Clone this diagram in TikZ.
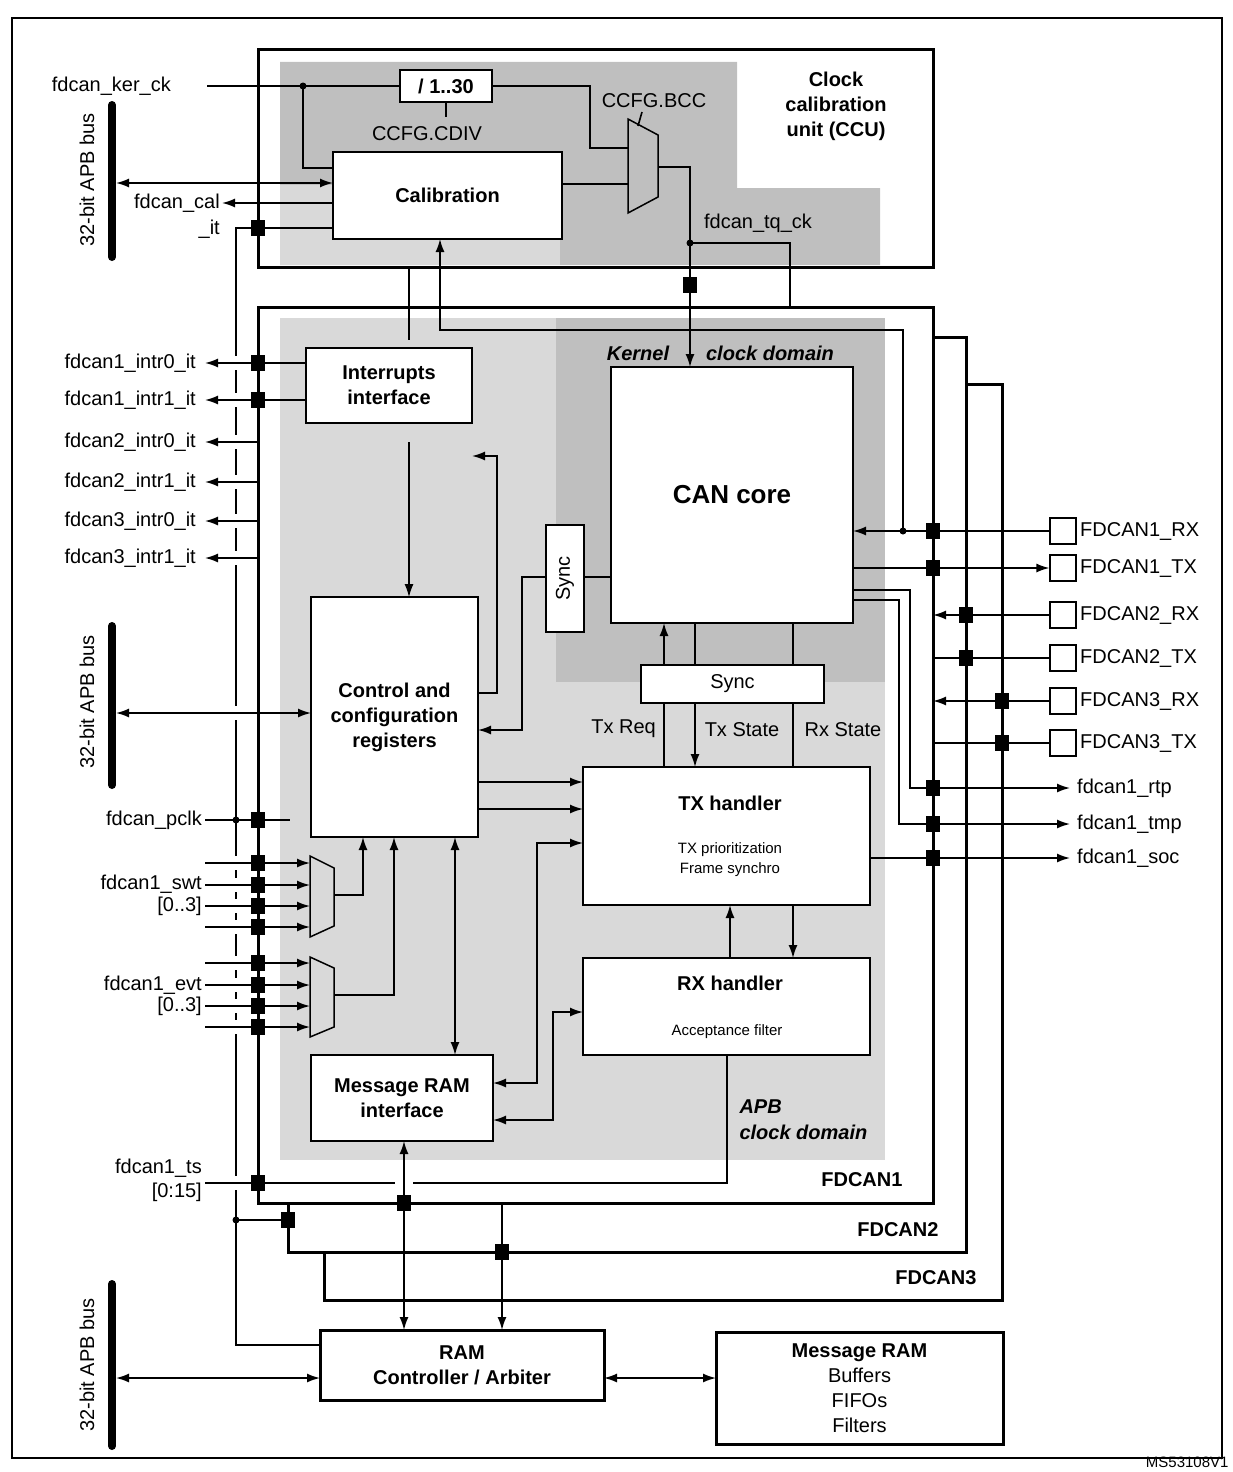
\documentclass[tikz,border=0pt]{standalone}
\usepackage{fontspec}
\setmainfont{Liberation Sans}
\usetikzlibrary{arrows.meta}
\definecolor{dg}{HTML}{BFBFBF}
\definecolor{lg}{HTML}{D9D9D9}
\newcommand\fa{\fontsize{20}{24}\selectfont}
\newcommand\fb{\fontsize{20}{25}\selectfont\bfseries}
\newcommand\fc{\fontsize{15}{20}\selectfont}
\newcommand\mybox[7][]{\node[box,#1,minimum width={(#5-#3)*1pt},minimum height={(#6-#4)*1pt}] (#2) at ({(#3+#5)/2},{(#4+#6)/2}) {#7};}
\newcommand\sqr[2]{\fill ({#1-7},{#2-8}) rectangle ({#1+7},{#2+8});}
\newcommand\jdot[2]{\fill (#1,#2) circle (3.5);}
\begin{document}
\begin{tikzpicture}[x=1pt,y=-1pt,
 box/.style={draw, fill=white, line width=1.5pt, inner sep=0, align=center, font=\fb},
 conn/.style={line width=1.6pt},
 arr/.style={conn, -{Latex[length=13pt,width=9pt]}},
 darr/.style={conn, {Latex[length=13pt,width=9pt]}-{Latex[length=13pt,width=9pt]}},
 frm/.style={line width=3pt},
 lbl/.style={font=\fa, inner sep=1pt},
 bus/.style={line width=8pt, line cap=round}]
\useasboundingbox (0,0) rectangle (1232,1472);
\draw[line width=1.5pt] (12,18) rectangle (1222,1458);
% shading
\fill[dg] (280,62) -- (737,62) -- (737,188) -- (880,188) -- (880,265) -- (280,265) -- cycle;
\fill[lg] (280,185) rectangle (560,265);
\fill[lg] (280,318) rectangle (885,1160);
\fill[dg] (556,318) rectangle (885,682);
% long vertical line with gaps
\draw[conn] (333,228) -- (236,228) -- (236,1345) -- (320,1345);
\foreach \y in {363,400,442,482,521,558,713,863,885,906,927,963,985,1006,1027,1183}
  \draw[white,line width=4pt] (236,\y-7) -- (236,\y+7);
% frames
\draw[frm] (258,50) rectangle (933,267);
\draw[frm] (258,307) rectangle (933,1203);
\draw[frm] (288,1203) -- (288,1252) -- (966,1252) -- (966,337) -- (933,337);
\draw[frm] (324,1252) -- (324,1300) -- (1002,1300) -- (1002,384) -- (966,384);
\node[font=\fb, align=center] (ccut) at (836,106) {Clock\\calibration\\unit (CCU)};
\node[font=\fb, anchor=east] (f1) at (906,1180) {FDCAN1};
\node[font=\fb, anchor=east] (f2) at (942,1230) {FDCAN2};
\node[font=\fb, anchor=east] (f3) at (980,1278) {FDCAN3};
% CCU
\mybox{div}{400}{70}{492}{102}{/ 1..30}
\mybox{calib}{333}{152}{562}{239}{Calibration}
\node[lbl, anchor=east] (kerl) at (172,86) {fdcan\_ker\_ck};
\coordinate (kerin) at (207,86);
\draw[conn] (kerin) -- (div.west);
\jdot{303}{86}
\draw[conn] (303,86) -- (303,168) -- (333,168);
\draw[conn] (446,102) -- (446,117);
\node[lbl] (cdiv) at (427,134) {CCFG.CDIV};
\draw[conn] (div.east) -- (590,86) -- (590,148) -- (628,148);
\draw[line width=1.5pt, fill=dg] (628,119) -- (658,135) -- (658,197) -- (628,213) -- cycle;
\draw[conn] (642,112) -- (638,126);
\node[lbl] (bcc) at (654,101) {CCFG.BCC};
\draw[conn] (562,184) -- (628,184);
\mybox[font=\fontsize{26}{30}\selectfont\bfseries]{core}{611}{367}{853}{623}{CAN core}
\draw[arr] (658,167) -- (690,167) -- (690,367);
\jdot{690}{243}
\draw[conn] (690,243) -- (790,243) -- (790,307);
\sqr{690}{285}
\node[lbl] (tq) at (758,223) {fdcan\_tq\_ck};
% APB bus 1
\draw[bus] (112,105) -- (112,257);
\node[lbl, rotate=90] (apb1) at (87,180) {32-bit APB bus};
\draw[darr] (116,183) -- (333,183);
\draw[arr] (333,203) -- (222,203);
\node[lbl, anchor=east] (cal) at (221,203) {fdcan\_cal};
\node[lbl, anchor=east] (calit) at (221,229) {\_it};
\sqr{258}{228}
% kernel labels
\node[font=\fb\itshape] (kl) at (638,353) {Kernel};
\node[font=\fb\itshape] (cl) at (770,353) {clock domain};
% interrupts
\draw[conn] (409,267) -- (409,340);
\draw[arr] (903,533) -- (903,330) -- (440,330) -- (440,239);
\mybox{intr}{306}{348}{472}{423}{Interrupts\\interface}
\draw[arr] (306,363) -- (205,363);
\draw[arr] (306,400) -- (205,400);
\sqr{258}{363}\sqr{258}{400}
\foreach \y in {442,482,521,558} \draw[arr] (258,\y) -- (205,\y);
\node[lbl, anchor=east] (i10) at (197,363) {fdcan1\_intr0\_it};
\node[lbl, anchor=east] (i11) at (197,400) {fdcan1\_intr1\_it};
\node[lbl, anchor=east] (i20) at (197,442) {fdcan2\_intr0\_it};
\node[lbl, anchor=east] (i21) at (197,482) {fdcan2\_intr1\_it};
\node[lbl, anchor=east] (i30) at (197,521) {fdcan3\_intr0\_it};
\node[lbl, anchor=east] (i31) at (197,558) {fdcan3\_intr1\_it};
\draw[arr, line width=1.2pt] (409,442) -- (409,597);
% control
\mybox{ctrl}{311}{597}{478}{837}{Control and\\configuration\\registers}
\draw[arr] (478,693) -- (497,693) -- (497,456) -- (472,456);
\node[box, font=\fa, minimum width=107pt, minimum height=38pt, rotate=90] (syncv) at (565,578.5) {Sync};
\draw[conn] (core.west |- 0,577) -- (584,577);
\draw[arr] (546,577) -- (522,577) -- (522,730) -- (478,730);
\mybox[font=\fa]{synch}{641}{665}{824}{703}{Sync}
\draw[arr] (664,665) -- (664,623);
\draw[conn] (695,623) -- (695,665);
\draw[conn] (793,623) -- (793,665);
\mybox{tx}{583}{767}{870}{905}{}
\node[font=\fb] (txt) at (730,803) {TX handler};
\node[font=\fc, align=center] (txs) at (730,860) {TX prioritization\\Frame synchro};
\mybox{rx}{583}{958}{870}{1055}{}
\node[font=\fb] (rxt) at (730,983) {RX handler};
\node[font=\fc] (rxs) at (727,1032) {Acceptance filter};
\draw[conn] (664,703) -- (664,767);
\draw[arr] (695,703) -- (695,767);
\draw[conn] (793,703) -- (793,767);
\node[lbl, anchor=east] (treq) at (657,729) {Tx Req};
\node[lbl] (tst) at (742,730) {Tx State};
\node[lbl] (rst) at (843,730) {Rx State};
\draw[arr] (730,958) -- (730,905);
\draw[arr] (793,905) -- (793,958);
\draw[arr] (478,782) -- (583,782);
\draw[arr] (478,809) -- (583,809);
\mybox{mri}{311}{1055}{493}{1141}{Message RAM\\interface}
\draw[darr] (493,1083) -- (537,1083) -- (537,843) -- (583,843);
\draw[darr] (493,1120) -- (553,1120) -- (553,1012) -- (583,1012);
\draw[darr] (455,837) -- (455,1055);
% APB bus 2
\draw[bus] (112,626) -- (112,785);
\node[lbl, rotate=90] (apb2) at (87,702) {32-bit APB bus};
\draw[darr] (116,713) -- (311,713);
% pclk
\node[lbl, anchor=east] (pclk) at (203,820) {fdcan\_pclk};
\draw[conn] (205,820) -- (290,820);
\jdot{236}{820}\sqr{258}{820}
% muxes
\draw[line width=1.5pt, fill=lg] (310,856) -- (334,868) -- (334,926) -- (310,937) -- cycle;
\draw[line width=1.5pt, fill=lg] (310,957) -- (334,968) -- (334,1027) -- (310,1037) -- cycle;
\foreach \y in {863,885,906,927,963,985,1006,1027} {\draw[arr] (205,\y) -- (310,\y); \sqr{258}{\y}}
\draw[arr] (334,895) -- (363,895) -- (363,837);
\draw[arr] (334,995) -- (394,995) -- (394,837);
\node[lbl, anchor=east] (swt) at (203,884) {fdcan1\_swt};
\node[lbl, anchor=east] (swtb) at (203,906) {[0..3]};
\node[lbl, anchor=east] (evt) at (203,985) {fdcan1\_evt};
\node[lbl, anchor=east] (evtb) at (203,1006) {[0..3]};
% ts
\node[lbl, anchor=east] (ts) at (203,1168) {fdcan1\_ts};
\node[lbl, anchor=east] (tsb) at (203,1192) {[0:15]};
\draw[conn] (205,1183) -- (395,1183);
\draw[conn] (413,1183) -- (727,1183) -- (727,1055);
\sqr{258}{1183}
\node[font=\fb\itshape, anchor=west] (apbl) at (736,1107) {APB};
\node[font=\fb\itshape, anchor=west] (apbc) at (736,1132) {clock domain};
% bottom
\mybox[line width=3pt]{ramc}{320}{1330}{604}{1400}{RAM\\Controller / Arbiter}
\mybox[line width=3pt]{mram}{716}{1332}{1003}{1444}{Message RAM\\\mdseries Buffers\\\mdseries FIFOs\\\mdseries Filters}
\draw[darr] (404,1141) -- (404,1330);
\sqr{404}{1203}
\draw[arr] (502,1203) -- (502,1330);
\sqr{502}{1252}
\draw[conn] (236,1220) -- (288,1220);
\jdot{236}{1220}\sqr{288}{1220}
\draw[bus] (112,1284) -- (112,1446);
\node[lbl, rotate=90] (apb3) at (87,1365) {32-bit APB bus};
\draw[darr] (116,1378) -- (320,1378);
\draw[darr] (604,1378) -- (716,1378);
% pins
\foreach \n/\y/\t in {p1/531/FDCAN1\_RX, p2/568/FDCAN1\_TX, p3/615/FDCAN2\_RX, p4/658/FDCAN2\_TX, p5/701/FDCAN3\_RX, p6/743/FDCAN3\_TX}{
  \node[draw, fill=white, line width=1.2pt, minimum size=26pt, inner sep=0] (\n) at (1063,\y) {};
  \node[lbl, anchor=west] (\n l) at (1079,\y) {\t};}
\draw[arr] (p1.west) -- (853,531);
\jdot{903}{531}\sqr{933}{531}
\draw[arr] (853,568) -- (p2.west);
\sqr{933}{568}
\draw[arr] (p3.west) -- (933,615);
\sqr{966}{615}
\draw[conn] (933,658) -- (p4.west);
\sqr{966}{658}
\draw[arr] (p5.west) -- (933,701);
\sqr{1002}{701}
\draw[conn] (933,743) -- (p6.west);
\sqr{1002}{743}
\draw[arr] (853,590) -- (910,590) -- (910,788) -- (1070,788);
\draw[arr] (853,600) -- (899,600) -- (899,824) -- (1070,824);
\draw[arr] (870,858) -- (1070,858);
\sqr{933}{788}\sqr{933}{824}\sqr{933}{858}
\node[lbl, anchor=west] (rtp) at (1076,788) {fdcan1\_rtp};
\node[lbl, anchor=west] (tmp) at (1076,824) {fdcan1\_tmp};
\node[lbl, anchor=west] (soc) at (1076,858) {fdcan1\_soc};
\node[font=\fc, anchor=east] (ms) at (1232,1462) {MS53108V1};
\end{tikzpicture}
\end{document}
